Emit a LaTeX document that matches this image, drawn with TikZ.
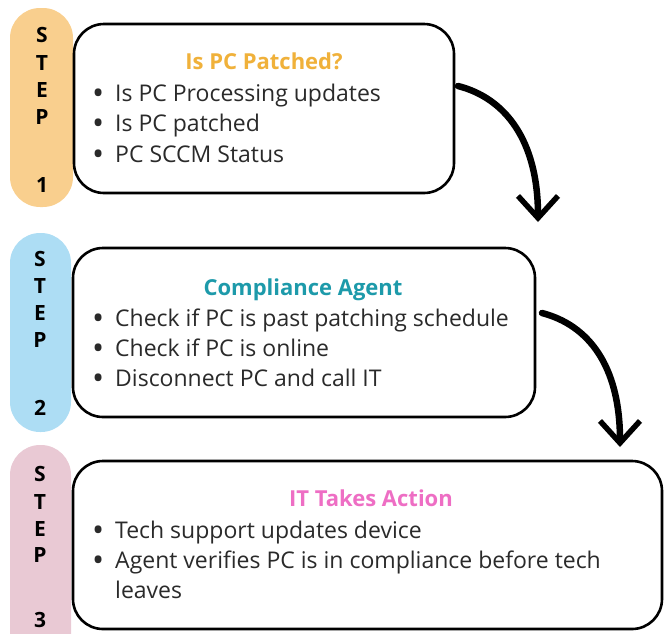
\documentclass[tikz,border=0pt]{standalone}
\usepackage{fontspec}
\setmainfont{Open Sans}
\usetikzlibrary{arrows.meta}
\definecolor{pillA}{HTML}{F9CF8E}
\definecolor{pillB}{HTML}{ADDDF4}
\definecolor{pillC}{HTML}{E9C9D4}
\definecolor{titA}{HTML}{F0B13A}
\definecolor{titB}{HTML}{1D9AAA}
\definecolor{titC}{HTML}{EE6EC4}
\definecolor{txt}{HTML}{2A2A2A}
\tikzset{
  stepbox/.style={draw=black, line width=2.6pt, rounded corners=30pt},
  letter/.style={font=\bfseries\fontsize{21}{21}\selectfont, text=black, anchor=center, inner sep=0pt},
  ttl/.style={font=\bfseries\fontsize{22}{22}\selectfont, anchor=mid},
  item/.style={font=\fontsize{23}{23}\selectfont, text=txt, anchor=mid west, inner sep=0pt},
  flow/.style={line width=6.5pt, line cap=round, -{Straight Barb[length=22pt,width=40pt,line width=5.5pt]}}
}
\newcommand{\bul}{\makebox[23pt][l]{\raisebox{-3pt}{\scalebox{1.4}{•}}}}
\begin{document}
\begin{tikzpicture}[x=1pt,y=-1pt]
\useasboundingbox (0,0) rectangle (664,633);
\clip (0,0) rectangle (664,633);
% pills
\fill[pillA, rounded corners=30pt] (10,8) rectangle (73,207);
\fill[pillB, rounded corners=30pt] (10,233) rectangle (71,432);
\fill[pillC, rounded corners=30pt] (10,445) rectangle (71,680);
% step letters
\foreach \ch/\yy [count=\i] in {S/35,T/63,E/90,P/117,1/185}{\node[letter] (sa\i) at (42,\yy) {\ch};}
\foreach \ch/\yy [count=\i] in {S/259,T/286,E/313,P/340,2/408}{\node[letter] (sb\i) at (40,\yy) {\ch};}
\foreach \ch/\yy [count=\i] in {S/474,T/502,E/529,P/555,3/620}{\node[letter] (sc\i) at (40,\yy) {\ch};}
% boxes
\draw[stepbox, fill=white] (74,24) rectangle (454,193);
\draw[stepbox, fill=white] (73,248) rectangle (535,417);
\draw[stepbox, fill=white] (73,461) rectangle (662,629);
% box 1
\node[ttl, text=titA] (t1) at (264,67) {Is PC Patched?};
\node[item] (i11) at (92,99) {\bul Is PC Processing updates};
\node[item] (i12) at (92,129) {\bul Is PC patched};
\node[item] (i13) at (92,160) {\bul PC SCCM Status};
% box 2
\node[ttl, text=titB] (t2) at (303,293) {Compliance Agent};
\node[item] (i21) at (92,324) {\bul Check if PC is past patching schedule};
\node[item] (i22) at (92,354) {\bul Check if PC is online};
\node[item] (i23) at (92,384) {\bul Disconnect PC and call IT};
% box 3
\node[ttl, text=titC] (t3) at (371,504) {IT Takes Action};
\node[item] (i31) at (92,536) {\bul Tech support updates device};
\node[item] (i32) at (92,566) {\bul Agent verifies PC is in compliance before tech};
\node[item] (i33) at (115,596) {leaves};
% arrows
\coordinate (a1s) at (458,86);
\coordinate (a1e) at (538,222);
\coordinate (a2s) at (542,313);
\coordinate (a2e) at (620,447);
\draw[flow] (a1s) .. controls (505,98) and (538,140) .. (a1e);
\draw[flow] (a2s) .. controls (588,325) and (620,365) .. (a2e);
\end{tikzpicture}
\end{document}
